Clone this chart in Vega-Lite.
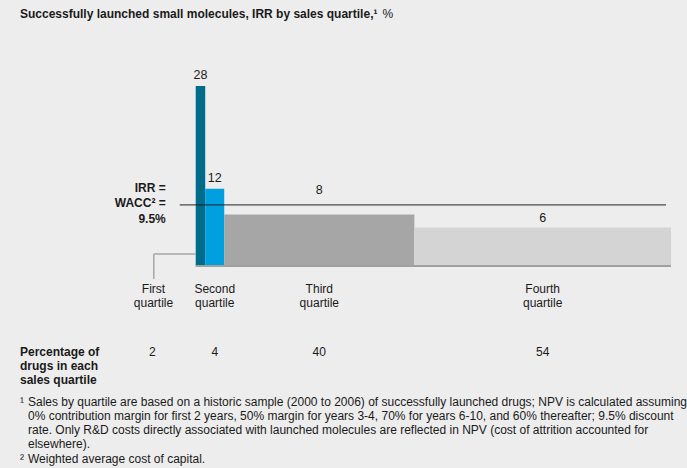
{
  "$schema": "https://vega.github.io/schema/vega-lite/v6.json",
  "width": 687,
  "height": 468,
  "autosize": {"type": "fit", "contains": "padding"},
  "padding": 0,
  "background": "#ededed",
  "config": {
    "view": {"stroke": null},
    "text": {"font": "Liberation Sans", "fontSize": 12, "color": "#1a1a1a"}
  },
  "data": {
    "values": [
      {"order": 1, "quartile": "First", "label": "First\nquartile", "share": 2, "irr": 28},
      {"order": 2, "quartile": "Second", "label": "Second\nquartile", "share": 4, "irr": 12},
      {"order": 3, "quartile": "Third", "label": "Third\nquartile", "share": 40, "irr": 8},
      {"order": 4, "quartile": "Fourth", "label": "Fourth\nquartile", "share": 54, "irr": 6}
    ]
  },
  "transform": [
    {"stack": "share", "groupby": [], "sort": [{"field": "order", "order": "ascending"}], "as": ["start", "end"]},
    {"calculate": "(datum.start + datum.end) / 2", "as": "mid"}
  ],
  "layer": [
    {
      "mark": {"type": "rect"},
      "encoding": {
        "x": {"field": "start", "type": "quantitative", "scale": {"domain": [-41.176, 103.151], "nice": false, "zero": false}, "axis": null},
        "x2": {"field": "end"},
        "y": {"field": "irr", "type": "quantitative", "scale": {"domain": [-31.415, 41.369], "nice": false, "zero": false}, "axis": null},
        "y2": {"datum": 0},
        "color": {"field": "quartile", "type": "nominal", "scale": {"domain": ["First", "Second", "Third", "Fourth"], "range": ["#006c8c", "#009fdf", "#a6a6a6", "#d4d4d4"]}, "legend": null}
      }
    },
    {
      "data": {"values": [{}]},
      "mark": {"type": "rule", "color": "#a0a0a0", "strokeWidth": 2},
      "encoding": {
        "x": {"datum": 0, "type": "quantitative"},
        "x2": {"datum": 100},
        "y": {"datum": 0, "type": "quantitative"}
      }
    },
    {
      "data": {"values": [{}]},
      "mark": {"type": "rule", "color": "#222222", "strokeWidth": 1},
      "encoding": {
        "x": {"datum": -3.36, "type": "quantitative"},
        "x2": {"datum": 98.95},
        "y": {"datum": 9.5, "type": "quantitative"}
      }
    },
    {
      "data": {"values": [{}]},
      "mark": {"type": "rule", "color": "#a6a6a6", "strokeWidth": 1.5},
      "encoding": {
        "x": {"datum": -8.82, "type": "quantitative"},
        "x2": {"datum": 0},
        "y": {"datum": 1.87, "type": "quantitative"}
      }
    },
    {
      "data": {"values": [{}]},
      "mark": {"type": "rule", "color": "#a6a6a6", "strokeWidth": 1.5},
      "encoding": {
        "x": {"datum": -8.82, "type": "quantitative"},
        "y": {"datum": 1.87, "type": "quantitative"},
        "y2": {"datum": -2.02}
      }
    },
    {
      "transform": [{"filter": "datum.quartile == 'First' || datum.quartile == 'Second'"}],
      "mark": {"type": "text", "baseline": "alphabetic", "dy": -7, "fontSize": 12.5},
      "encoding": {
        "x": {"field": "mid", "type": "quantitative"},
        "y": {"field": "irr", "type": "quantitative"},
        "text": {"field": "irr", "type": "quantitative"}
      }
    },
    {
      "transform": [{"filter": "datum.quartile == 'Third'"}],
      "mark": {"type": "text", "baseline": "alphabetic", "dy": -21, "fontSize": 12.5},
      "encoding": {
        "x": {"field": "mid", "type": "quantitative"},
        "y": {"field": "irr", "type": "quantitative"},
        "text": {"field": "irr", "type": "quantitative"}
      }
    },
    {
      "transform": [{"filter": "datum.quartile == 'Fourth'"}],
      "mark": {"type": "text", "baseline": "alphabetic", "dy": -5, "fontSize": 12.5},
      "encoding": {
        "x": {"field": "mid", "type": "quantitative"},
        "y": {"field": "irr", "type": "quantitative"},
        "text": {"field": "irr", "type": "quantitative"}
      }
    },
    {
      "transform": [{"filter": "datum.quartile != 'First'"}],
      "mark": {"type": "text", "baseline": "top", "lineBreak": "\n", "lineHeight": 13.5, "align": "center"},
      "encoding": {
        "x": {"field": "mid", "type": "quantitative"},
        "y": {"datum": -2.8, "type": "quantitative"},
        "text": {"field": "label"}
      }
    },
    {
      "transform": [{"filter": "datum.quartile == 'First'"}],
      "mark": {"type": "text", "baseline": "top", "lineBreak": "\n", "lineHeight": 13.5, "align": "center", "dx": -47},
      "encoding": {
        "x": {"field": "mid", "type": "quantitative"},
        "y": {"datum": -2.8, "type": "quantitative"},
        "text": {"field": "label"}
      }
    },
    {
      "transform": [{"filter": "datum.quartile != 'First'"}],
      "mark": {"type": "text", "baseline": "middle", "align": "center"},
      "encoding": {
        "x": {"field": "mid", "type": "quantitative"},
        "y": {"datum": -13.37, "type": "quantitative"},
        "text": {"field": "share", "type": "quantitative"}
      }
    },
    {
      "transform": [{"filter": "datum.quartile == 'First'"}],
      "mark": {"type": "text", "baseline": "middle", "align": "center", "dx": -48},
      "encoding": {
        "x": {"field": "mid", "type": "quantitative"},
        "y": {"datum": -13.37, "type": "quantitative"},
        "text": {"field": "share", "type": "quantitative"}
      }
    },
    {
      "data": {"values": [{}]},
      "mark": {"type": "text", "baseline": "top", "align": "right", "fontWeight": "bold", "lineBreak": "\n", "lineHeight": 15.5},
      "encoding": {
        "x": {"datum": -6.3, "type": "quantitative"},
        "y": {"datum": 12.95, "type": "quantitative"},
        "text": {"value": "IRR =\nWACC² =\n9.5%"}
      }
    },
    {
      "data": {"values": [{}]},
      "mark": {"type": "text", "baseline": "middle", "align": "left", "fontWeight": "bold"},
      "encoding": {
        "x": {"datum": -36.97, "type": "quantitative"},
        "y": {"datum": 39.19, "type": "quantitative"},
        "text": {"value": "Successfully launched small molecules, IRR by sales quartile,¹"}
      }
    },
    {
      "data": {"values": [{}]},
      "mark": {"type": "text", "baseline": "middle", "align": "left"},
      "encoding": {
        "x": {"datum": 39.29, "type": "quantitative"},
        "y": {"datum": 39.19, "type": "quantitative"},
        "text": {"value": "%"}
      }
    },
    {
      "data": {"values": [{}]},
      "mark": {"type": "text", "baseline": "top", "align": "left", "fontWeight": "bold", "lineBreak": "\n", "lineHeight": 14},
      "encoding": {
        "x": {"datum": -36.97, "type": "quantitative"},
        "y": {"datum": -12.67, "type": "quantitative"},
        "text": {"value": "Percentage of\ndrugs in each\nsales quartile"}
      }
    },
    {
      "data": {"values": [{}]},
      "mark": {"type": "text", "baseline": "top", "align": "left"},
      "encoding": {
        "x": {"datum": -36.97, "type": "quantitative"},
        "y": {"datum": -20.3, "type": "quantitative"},
        "text": {"value": "¹"}
      }
    },
    {
      "data": {"values": [{}]},
      "mark": {"type": "text", "baseline": "top", "align": "left", "lineBreak": "\n", "lineHeight": 14.3},
      "encoding": {
        "x": {"datum": -35.29, "type": "quantitative"},
        "y": {"datum": -20.3, "type": "quantitative"},
        "text": {"value": "Sales by quartile are based on a historic sample (2000 to 2006) of successfully launched drugs; NPV is calculated assuming\n0% contribution margin for first 2 years, 50% margin for years 3-4, 70% for years 6-10, and 60% thereafter; 9.5% discount\nrate. Only R&D costs directly associated with launched molecules are reflected in NPV (cost of attrition accounted for\nelsewhere)."}
      }
    },
    {
      "data": {"values": [{}]},
      "mark": {"type": "text", "baseline": "top", "align": "left"},
      "encoding": {
        "x": {"datum": -36.97, "type": "quantitative"},
        "y": {"datum": -29.16, "type": "quantitative"},
        "text": {"value": "²"}
      }
    },
    {
      "data": {"values": [{}]},
      "mark": {"type": "text", "baseline": "top", "align": "left"},
      "encoding": {
        "x": {"datum": -35.29, "type": "quantitative"},
        "y": {"datum": -29.16, "type": "quantitative"},
        "text": {"value": "Weighted average cost of capital."}
      }
    }
  ]
}
